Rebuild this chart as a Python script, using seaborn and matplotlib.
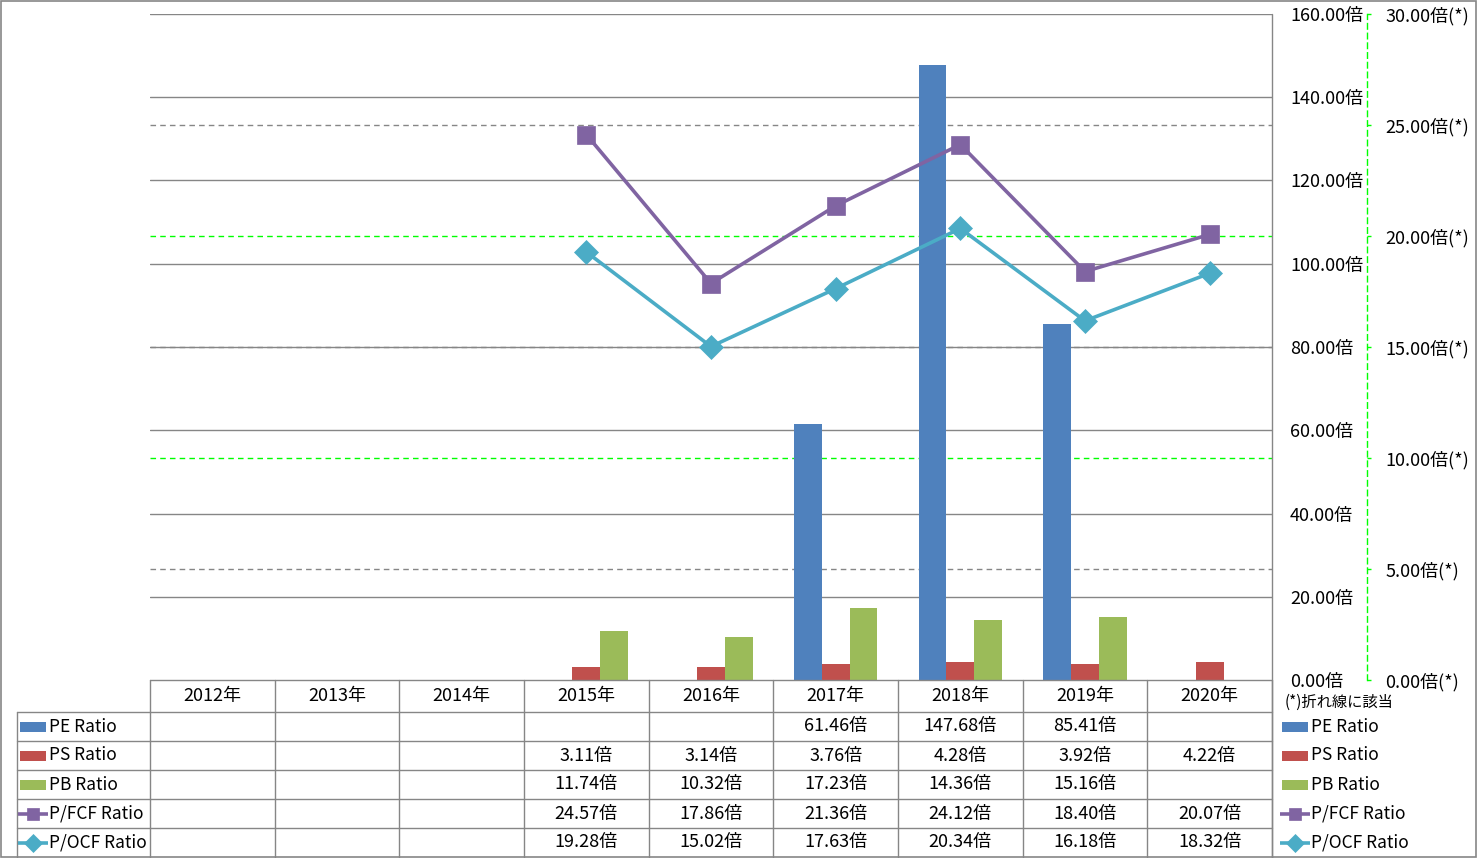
import numpy as np
import pandas as pd
import matplotlib
matplotlib.use("Agg")
import matplotlib.pyplot as plt
import seaborn as sns
from matplotlib.patches import Rectangle

nan = np.nan
years = ["2012年", "2013年", "2014年", "2015年", "2016年", "2017年", "2018年", "2019年", "2020年"]
pe_ratio = [nan, nan, nan, nan, nan, 61.46, 147.68, 85.41, nan]
ps_ratio = [nan, nan, nan, 3.11, 3.14, 3.76, 4.28, 3.92, 4.22]
pb_ratio = [nan, nan, nan, 11.74, 10.32, 17.23, 14.36, 15.16, nan]
pfcf_ratio = [nan, nan, nan, 24.57, 17.86, 21.36, 24.12, 18.40, 20.07]
pocf_ratio = [nan, nan, nan, 19.28, 15.02, 17.63, 20.34, 16.18, 18.32]
bar_names = ["PE Ratio", "PS Ratio", "PB Ratio"]
line_names = ["P/FCF Ratio", "P/OCF Ratio"]
primary_ticks = [0, 20, 40, 60, 80, 100, 120, 140, 160]
secondary_ticks = [0, 5, 10, 15, 20, 25, 30]
note_text = "(*)折れ線に該当"

bar_colors = ["#4F81BD", "#C0504D", "#9BBB59"]
line_colors = ["#8064A2", "#4BACC6"]
line_markers = ["s", "D"]
grid_gray = "#868686"
green = "#00FF00"

sns.set_theme(style="white")
plt.rcParams['font.family'] = ['Noto Sans CJK JP', 'DejaVu Sans']

W, H = 1477, 858
fig = plt.figure(figsize=(W / 100, H / 100), dpi=100)
fig.patch.set_facecolor("white")
L, R, T, B = 150, 1272, 14, 680
ax = fig.add_axes([L / W, 1 - B / H, (R - L) / W, (B - T) / H])
ax.patch.set_alpha(0)

# bars
bar_series = [pe_ratio, ps_ratio, pb_ratio]
df = pd.DataFrame({
    "year": years * 3,
    "series": np.repeat(bar_names, len(years)),
    "value": pe_ratio + ps_ratio + pb_ratio,
}).dropna()
sns.barplot(data=df, x="year", y="value", hue="series", order=years,
            hue_order=bar_names, palette=bar_colors, saturation=1,
            width=2 / 3, gap=0, dodge=True, errorbar=None, legend=False,
            linewidth=0, ax=ax)

ymax1, ymax2 = 160, 30
ax.set_ylim(0, ymax1)
ax.set_xlim(-0.5, len(years) - 0.5)

# gridlines (all behind bars)
for v in primary_ticks[1:]:
    ax.axhline(v, color=grid_gray, lw=1.0, zorder=0.5)
for v in secondary_ticks[1:-1]:
    c = green if v in (10, 20) else grid_gray
    ax.axhline(v * ymax1 / ymax2, color=c, lw=1.0, ls=(0, (4, 3)), zorder=0.4)

ax.set_xticks([])
ax.set_xlabel("")
ax.set_ylabel("")
for s in ax.spines.values():
    s.set_visible(False)

# secondary axis with lines
ax2 = ax.twinx()
xpos = np.arange(len(years))
for vals, name, col, mk in zip([pfcf_ratio, pocf_ratio], line_names, line_colors, line_markers):
    sns.lineplot(x=xpos, y=vals, ax=ax2, color=col, marker=mk, markersize=12.5,
                 linewidth=2.6, mec=col, mew=0.5, label=None, legend=False)
ax2.set_ylim(0, ymax2)
ax2.set_xlim(-0.5, len(years) - 0.5)
ax2.set_yticks(secondary_ticks)
ax2.set_yticklabels([f"{v:.2f}倍(*)" for v in secondary_ticks])
ax2.set_ylabel("")
for k, s in ax2.spines.items():
    s.set_visible(k == "right")
sp = ax2.spines["right"]
sp.set_position(("axes", (1367 - L) / (R - L)))
sp.set_color(green)
sp.set_linestyle((0, (4, 3)))
sp.set_linewidth(1.0)
ax2.tick_params(axis="y", direction="out", length=3, width=1, color=green,
                pad=10, labelsize=13, labelcolor="black")
ax2.grid(False)
ax.grid(False)

# primary labels on the right (after twinx)
ax.yaxis.tick_right()
ax.yaxis.set_label_position("right")
ax.set_yticks(primary_ticks)
ax.set_yticklabels([f"{v:.2f}倍" for v in primary_ticks])
ax.tick_params(axis="y", which="both", left=False, labelleft=False, right=False,
               labelright=True, length=0, pad=13, labelsize=13, labelcolor="black")

# table overlay in pixel coordinates
tab = fig.add_axes([0, 0, 1, 1])
tab.set_xlim(0, W)
tab.set_ylim(H, 0)
tab.axis("off")
tab.patch.set_alpha(0)

col_w = (R - L) / len(years)
row_edges = [712, 741, 770, 799, 828, 857]
lc = dict(color=grid_gray, lw=1.0)
tab.plot([L, R], [B, B], **lc)
for y in row_edges[:-1]:
    tab.plot([17, R], [y, y], **lc)
tab.plot([17, 17], [712, H], **lc)
for i in range(len(years) + 1):
    x = L + i * col_w
    tab.plot([x, x], [B, H], **lc)
tab.plot([R, R], [T, H], **lc)

for i, yr in enumerate(years):
    tab.text(L + (i + 0.5) * col_w, 696, yr, ha="center", va="center", fontsize=13, color="black")

all_series = bar_series + [pfcf_ratio, pocf_ratio]
all_names = bar_names + line_names
all_colors = bar_colors + line_colors
row_centers = [(row_edges[i] + row_edges[i + 1]) / 2 for i in range(5)]
for r, (vals, name, col) in enumerate(zip(all_series, all_names, all_colors)):
    yc = row_centers[r]
    for i, v in enumerate(vals):
        if not np.isnan(v):
            tab.text(L + (i + 0.5) * col_w, yc, f"{v:.2f}倍", ha="center", va="center",
                     fontsize=13, color="black")
    for kx, tx in ((20, 49), (1282, 1311)):
        if r < 3:
            tab.add_patch(Rectangle((kx, yc - 5), 26, 10, color=col, lw=0))
        else:
            tab.plot([kx - 2, kx + 28], [yc, yc], color=col, lw=2.6,
                     solid_capstyle="butt")
            tab.plot([kx + 13], [yc], marker=line_markers[r - 3], color=col,
                     markersize=9, mec=col, mew=0.5)
        tab.text(tx, yc, name, ha="left", va="center", fontsize=12.5, color="black")

tab.text(1285, 702, note_text, ha="left", va="center", fontsize=11, color="black")

tab.add_patch(Rectangle((0.5, 0.5), W - 1.5, H - 1.5, fill=False, ec=grid_gray, lw=1.2))

fig.savefig("out.png", dpi=100)
